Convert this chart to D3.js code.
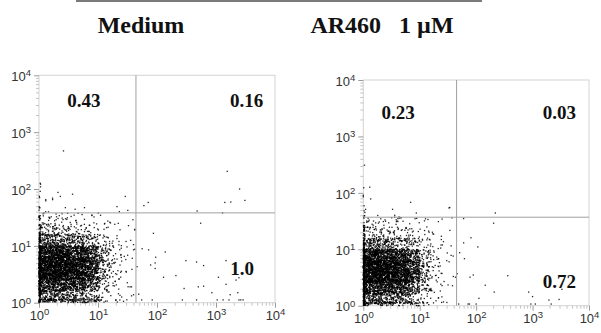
<!DOCTYPE html>
<html>
<head>
<meta charset="utf-8">
<script src="https://cdn.jsdelivr.net/npm/d3@7"></script>
<style>
  body { margin: 0; background: #fff; }
  svg { display: block; }
</style>
</head>
<body>
<div id="chart"></div>
<script>
// ---- data ----
const panelTitles = ["Medium", "AR460\u00a0\u00a0 1 \u00b5M"];
const decadeTicks = [1, 10, 100, 1000, 10000];

// quadrant percentages: upper-left, upper-right, lower-right
const quadMedium = ["0.43", "0.16", "1.0"];
const quadAR460 = ["0.23", "0.03", "0.72"];

// quadrant gates (x, y intensity)
const gateMedium = [44, 38];
const gateAR460 = [45, 37];

// main cloud: event counts in 0.2-decade bins, rows from y 10^0 upward, cols from x 10^0 rightward
const binEdges = [1, 1.585, 2.512, 3.981, 6.31, 10, 15.85, 25.12, 39.81];
const cloudMedium = [
  [70, 70, 65, 55, 36, 14, 5, 2],
  [140, 145, 140, 125, 80, 26, 7, 2],
  [230, 240, 230, 205, 140, 42, 11, 3],
  [240, 250, 240, 215, 145, 46, 12, 3],
  [190, 200, 185, 160, 115, 38, 11, 3],
  [80, 76, 66, 54, 38, 18, 7, 2],
  [30, 26, 22, 16, 11, 6, 3, 1],
  [12, 10, 8, 6, 4, 3, 2, 1]
];
const cloudAR460 = [
  [68, 68, 62, 52, 32, 12, 4, 1],
  [135, 140, 135, 118, 72, 22, 6, 2],
  [230, 240, 225, 200, 125, 34, 9, 2],
  [235, 245, 230, 200, 120, 34, 9, 2],
  [175, 180, 165, 140, 90, 28, 8, 2],
  [68, 62, 54, 42, 28, 13, 5, 2],
  [26, 22, 18, 14, 10, 6, 4, 1],
  [11, 9, 7, 6, 4, 3, 2, 1]
];
// events piled on x = 10^0 (by y bin, extends to 10^2.2) and on y = 10^0 (by x bin)
const columnEdges = [1, 1.585, 2.512, 3.981, 6.31, 10, 15.85, 25.12, 39.81, 63.1, 100, 158.5];
const columnMedium = [40, 50, 60, 60, 50, 30, 15, 8, 4, 3, 2];
const columnAR460 = [40, 50, 60, 55, 45, 25, 12, 6, 3, 2, 1];
const floorMedium = [15, 15, 12, 10, 8, 4, 2, 1];
const floorAR460 = [14, 14, 12, 10, 7, 3, 2, 1];

// sparse events outside the cloud [x, y]
const outliersMedium = [
  [1550, 204], [2510, 100], [3090, 63], [1410, 58], [1780, 59], [60, 51], [71, 58],
  [479, 41], [1290, 38], [550, 25], [42, 19.5], [87, 16.6], [40, 10.5], [42, 8.7],
  [56, 8.9], [72, 8.5], [138, 7.8], [95, 6.3], [93, 5.0], [78, 4.6], [93, 4.0],
  [46, 4.3], [309, 5.5], [468, 5.2], [617, 4.5], [1480, 5.5], [129, 2.8], [209, 3.0],
  [1100, 2.8], [2190, 2.5], [2450, 2.75], [1480, 2.1], [288, 1.78], [501, 1.9],
  [617, 1.95], [851, 1.5], [1740, 1.38], [2340, 1.5], [49, 1.41], [37, 1.32], [35, 1.9],
  [55, 1.12], [83, 1.12], [269, 1.12], [468, 1.12], [1050, 1.12], [1320, 1.12],
  [1660, 1.12], [2450, 1.12], [2630, 1.12], [2880, 1.12],
  [2.6, 468], [1.05, 126], [1.7, 65], [2.1, 87], [2.3, 74], [3.7, 81], [1.3, 65],
  [2.8, 47], [4.1, 44], [5.9, 47], [21, 49], [29, 74], [23, 40], [1.7, 69], [1.3, 62],
  [32, 42], [42, 19], [40, 8.5], [37, 1.9], [40, 1.38]
];
const outliersAR460 = [
  [219, 44], [204, 29], [60, 35], [34, 55], [81, 16], [60, 13], [107, 11], [36, 11.5],
  [51, 8.7], [62, 6.8], [36, 7.8], [46, 3.7], [43, 3.2], [78, 3.2], [89, 3.5], [363, 3.4],
  [145, 2.3], [209, 1.74], [112, 1.35], [851, 1.74], [1000, 1.45], [1950, 1.26],
  [2950, 1.29], [3310, 1.95],
  [49, 1.07], [72, 1.07], [76, 1.07], [100, 1.07], [933, 1.07], [1120, 1.07], [2140, 1.07],
  [1.3, 126], [1.35, 78], [6.9, 68], [8.7, 44], [3.3, 51], [4.1, 35], [33, 54],
  [1.1, 51], [3.6, 40], [1.05, 309]
];

// ---- layout ----
const width = 601, height = 333;
const panels = [
  {
    title: panelTitles[0], titleX: 141, cloud: cloudMedium, column: columnMedium,
    floor: floorMedium, outliers: outliersMedium, gate: gateMedium, quads: quadMedium,
    box: { left: 39, right: 275, top: 75.3, bottom: 302.7 },
    quadPos: [[3, 2800, 'start'], [6300, 2800, 'end'], [4400, 3.1, 'end']]
  },
  {
    title: panelTitles[1], titleX: 382, cloud: cloudAR460, column: columnAR460,
    floor: floorAR460, outliers: outliersAR460, gate: gateAR460, quads: quadAR460,
    box: { left: 363.3, right: 589, top: 80, bottom: 305.7 },
    quadPos: [[2.1, 2000, 'start'], [5900, 2000, 'end'], [5900, 2.1, 'end']]
  }
];

const svg = d3.select('#chart')
  .append('svg')
  .attr('width', width)
  .attr('height', height)
  .style('background', '#fff');

// rule over both titles
svg.append('line')
  .attr('x1', 76).attr('x2', 482)
  .attr('y1', 1).attr('y2', 1)
  .attr('stroke', '#7a7a7a')
  .attr('stroke-width', 2);

// minor log ticks 2..9 per decade
const minorTicks = [];
[1, 10, 100, 1000].forEach((d) => {
  for (let k = 2; k <= 9; k++) minorTicks.push(d * k);
});

// fixed-seed hash, only used to spread each bin's events inside that bin
const spread = (seed) => {
  let s = seed >>> 0;
  return () => {
    s = (s + 0x6D2B79F5) >>> 0;
    let t = s;
    t = Math.imul(t ^ (t >>> 15), t | 1);
    t ^= t + Math.imul(t ^ (t >>> 7), t | 61);
    return ((t ^ (t >>> 14)) >>> 0) / 4294967296;
  };
};

panels.forEach((p, pi) => {
  const b = p.box;
  const x = d3.scaleLog().domain([1, 10000]).range([b.left, b.right]);
  const y = d3.scaleLog().domain([1, 10000]).range([b.bottom, b.top]);
  const r = spread(1234 + pi * 977);

  // title
  svg.append('text')
    .attr('x', p.titleX)
    .attr('y', 33)
    .attr('text-anchor', 'middle')
    .attr('font-family', 'Liberation Serif, Times New Roman, serif')
    .attr('font-weight', 'bold')
    .attr('font-size', '24px')
    .attr('fill', '#111')
    .text(p.title);

  const g = svg.append('g');

  // frame
  g.append('rect')
    .attr('x', b.left).attr('y', b.top)
    .attr('width', b.right - b.left)
    .attr('height', b.bottom - b.top)
    .attr('fill', 'none')
    .attr('stroke', '#d4d4d4')
    .attr('stroke-width', 1);

  // axes
  const xAxis = g.append('g')
    .attr('transform', `translate(0, ${b.bottom})`)
    .call(d3.axisBottom(x).tickValues(decadeTicks).tickSize(5).tickFormat(() => ''));
  const xMinor = g.append('g')
    .attr('transform', `translate(0, ${b.bottom})`)
    .call(d3.axisBottom(x).tickValues(minorTicks).tickSize(3).tickFormat(() => ''));
  const yAxis = g.append('g')
    .attr('transform', `translate(${b.left}, 0)`)
    .call(d3.axisLeft(y).tickValues(decadeTicks).tickSize(5).tickFormat(() => ''));
  const yMinor = g.append('g')
    .attr('transform', `translate(${b.left}, 0)`)
    .call(d3.axisLeft(y).tickValues(minorTicks).tickSize(3).tickFormat(() => ''));

  [xAxis, xMinor, yAxis, yMinor].forEach((a) => a.select('.domain').remove());
  [xAxis, yAxis].forEach((a) => a.selectAll('line').attr('stroke', '#9a9a9a'));
  [xMinor, yMinor].forEach((a) => a.selectAll('line').attr('stroke', '#c4c4c4'));

  // 10^n labels
  const supLabel = (sel) => {
    sel.text(null);
    sel.append('tspan').text('10');
    sel.append('tspan')
      .attr('dy', '-0.5em')
      .attr('font-size', '9.5px')
      .text((d) => Math.round(Math.log10(d)));
  };
  xAxis.selectAll('.tick text')
    .attr('y', 17)
    .attr('dy', 0)
    .attr('font-family', 'Liberation Sans, Arial, sans-serif')
    .attr('font-size', '13px')
    .attr('fill', '#333')
    .each(function () { supLabel(d3.select(this)); });
  yAxis.selectAll('.tick text')
    .attr('x', -8)
    .attr('dy', '0.4em')
    .attr('font-family', 'Liberation Sans, Arial, sans-serif')
    .attr('font-size', '13px')
    .attr('fill', '#333')
    .each(function () { supLabel(d3.select(this)); });

  // events
  const dots = [];
  p.cloud.forEach((row, j) => {
    row.forEach((n, i) => {
      const x0 = x(binEdges[i]), x1 = x(binEdges[i + 1]);
      const y0 = y(binEdges[j]), y1 = y(binEdges[j + 1]);
      for (let k = 0; k < n; k++) {
        dots.push([x0 + r() * (x1 - x0), y0 + r() * (y1 - y0)]);
      }
    });
  });
  p.column.forEach((n, j) => {
    const y0 = y(columnEdges[j]), y1 = y(columnEdges[j + 1]);
    for (let k = 0; k < n; k++) {
      dots.push([x(1) + 1.6 * r(), y0 + r() * (y1 - y0)]);
    }
  });
  p.floor.forEach((n, i) => {
    const x0 = x(binEdges[i]), x1 = x(binEdges[i + 1]);
    for (let k = 0; k < n; k++) {
      dots.push([x0 + r() * (x1 - x0), y(1) - 2.2 - 1.2 * r()]);
    }
  });
  p.outliers.forEach((d) => dots.push([x(d[0]), y(d[1])]));

  g.append('g')
    .selectAll('rect')
    .data(dots.filter((d) => d[0] >= b.left - 1 && d[0] <= b.right && d[1] >= b.top && d[1] <= b.bottom))
    .enter()
    .append('rect')
    .attr('x', (d) => d[0] - 0.65)
    .attr('y', (d) => d[1] - 0.65)
    .attr('width', 1.3)
    .attr('height', 1.3)
    .attr('fill', '#000')
    .attr('fill-opacity', 0.85);

  // quadrant gates
  g.append('line')
    .attr('x1', x(p.gate[0])).attr('x2', x(p.gate[0]))
    .attr('y1', b.top).attr('y2', b.bottom)
    .attr('stroke', '#a0a0a0');
  g.append('line')
    .attr('x1', b.left).attr('x2', b.right)
    .attr('y1', y(p.gate[1])).attr('y2', y(p.gate[1]))
    .attr('stroke', '#a0a0a0');

  // quadrant percentages
  g.selectAll('.quad')
    .data(p.quads)
    .enter()
    .append('text')
    .attr('class', 'quad')
    .attr('x', (d, i) => x(p.quadPos[i][0]))
    .attr('y', (d, i) => y(p.quadPos[i][1]))
    .attr('text-anchor', (d, i) => p.quadPos[i][2])
    .attr('font-family', 'Liberation Serif, Times New Roman, serif')
    .attr('font-weight', 'bold')
    .attr('font-size', '19px')
    .attr('fill', '#111')
    .text((d) => d);
});
</script>
</body>
</html>
